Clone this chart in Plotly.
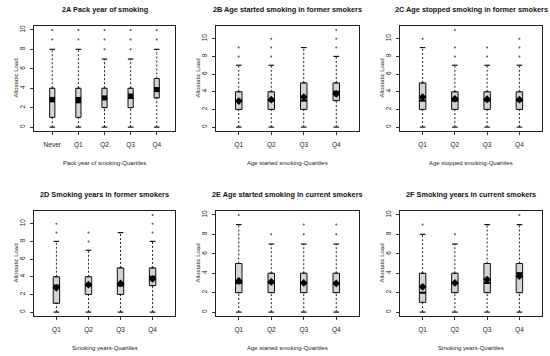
import plotly.graph_objects as go

# ---------------- data ----------------
titles = ["2A Pack year of smoking",
          "2B Age started smoking in former smokers",
          "2C Age stopped smoking in former smokers",
          "2D Smoking years in former smokers",
          "2E Age started smoking in current smokers",
          "2F Smoking years in current smokers"]
xtitles = ["Pack year of smoking-Quartiles",
           "Age started smoking-Quartiles",
           "Age stopped smoking-Quartiles",
           "Smoking years-Quartiles",
           "Age started smoking-Quartiles",
           "Smoking years-Quartiles"]
ytitle = "Allostatic Load"

cats_2A = ["Never", "Q1", "Q2", "Q3", "Q4"]
cats_q = ["Q1", "Q2", "Q3", "Q4"]

q1_2A = [1, 1, 2, 2, 3]; med_2A = [3, 3, 3, 3, 4]; q3_2A = [4, 4, 4, 4, 5]
lo_2A = [0, 0, 0, 0, 0]; hi_2A = [8, 8, 7, 7, 8]
mean_2A = [2.8, 2.7, 3.0, 3.2, 3.85]
out_2A = [[9, 10], [9, 10], [8, 9, 10], [8, 9, 10], [9, 10]]

q1_2B = [2, 2, 2, 3]; med_2B = [3, 3, 3, 4]; q3_2B = [4, 4, 5, 5]
lo_2B = [0, 0, 0, 0]; hi_2B = [7, 7, 9, 8]
mean_2B = [2.95, 3.1, 3.4, 3.75]
out_2B = [[8, 9], [8, 9, 10], [], [9, 10, 11]]

q1_2C = [2, 2, 2, 2]; med_2C = [3, 3, 3, 3]; q3_2C = [5, 4, 4, 4]
lo_2C = [0, 0, 0, 0]; hi_2C = [9, 7, 7, 7]
mean_2C = [3.4, 3.2, 3.15, 3.1]
out_2C = [[10], [8, 9, 11], [8, 9], [8, 9, 10]]

q1_2D = [1, 2, 2, 3]; med_2D = [3, 3, 3, 4]; q3_2D = [4, 4, 5, 5]
lo_2D = [0, 0, 0, 0]; hi_2D = [8, 7, 9, 8]
mean_2D = [2.75, 3.1, 3.25, 3.75]
out_2D = [[9, 10], [8, 9], [], [9, 10, 11]]

q1_2E = [2, 2, 2, 2]; med_2E = [3, 3, 3, 3]; q3_2E = [5, 4, 4, 4]
lo_2E = [0, 0, 0, 0]; hi_2E = [9, 7, 7, 7]
mean_2E = [3.2, 3.1, 3.0, 2.95]
out_2E = [[10], [8], [8, 9], [8, 9]]

q1_2F = [1, 2, 2, 2]; med_2F = [2, 3, 3, 4]; q3_2F = [4, 4, 5, 5]
lo_2F = [0, 0, 0, 0]; hi_2F = [8, 7, 9, 9]
mean_2F = [2.6, 3.0, 3.35, 3.7]
out_2F = [[9], [8], [], [10]]

ytickvals = [0, 2, 4, 6, 8, 10]

panels = [
    (cats_2A, q1_2A, med_2A, q3_2A, lo_2A, hi_2A, mean_2A, out_2A, "square"),
    (cats_q, q1_2B, med_2B, q3_2B, lo_2B, hi_2B, mean_2B, out_2B, "diamond"),
    (cats_q, q1_2C, med_2C, q3_2C, lo_2C, hi_2C, mean_2C, out_2C, "diamond"),
    (cats_q, q1_2D, med_2D, q3_2D, lo_2D, hi_2D, mean_2D, out_2D, "diamond"),
    (cats_q, q1_2E, med_2E, q3_2E, lo_2E, hi_2E, mean_2E, out_2E, "diamond"),
    (cats_q, q1_2F, med_2F, q3_2F, lo_2F, hi_2F, mean_2F, out_2F, "diamond"),
]

# ---------------- layout ----------------
W, H = 550, 356
FONT = "Liberation Sans, Arial, sans-serif"
col_px = [(34, 175), (216, 359), (400, 542)]
row_px = [(26, 131), (211, 316)]
title_y = [10, 195]
xtitle_y = [163, 348]
BOXW = 0.2

fig = go.Figure()
layout = dict(width=W, height=H, margin=dict(l=0, r=0, t=0, b=0),
              paper_bgcolor="white", plot_bgcolor="white",
              showlegend=False, font=dict(family=FONT, size=6, color="#222"))
annotations = []

for k, (cats, q1, med, q3, lo, hi, mean, outs, msym) in enumerate(panels):
    r, c = divmod(k, 3)
    xa = "x" if k == 0 else f"x{k+1}"
    ya = "y" if k == 0 else f"y{k+1}"
    xkey = "xaxis" if k == 0 else f"xaxis{k+1}"
    ykey = "yaxis" if k == 0 else f"yaxis{k+1}"
    n = len(cats)
    xs = list(range(1, n + 1))

    for i in range(n):
        fig.add_trace(go.Box(x=[xs[i]], q1=[q1[i]], median=[med[i]], q3=[q3[i]],
                             lowerfence=[q1[i]], upperfence=[q3[i]],
                             width=BOXW, fillcolor="#d4d4d4",
                             line=dict(color="#111", width=1),
                             boxpoints=False, hoverinfo="skip",
                             xaxis=xa, yaxis=ya))
    # medians
    mx, my = [], []
    for i in range(n):
        mx += [xs[i] - BOXW / 2, xs[i] + BOXW / 2, None]
        my += [med[i], med[i], None]
    fig.add_trace(go.Scatter(x=mx, y=my, mode="lines",
                             line=dict(color="black", width=2),
                             hoverinfo="skip", xaxis=xa, yaxis=ya))
    # whiskers
    wx, wy = [], []
    for i in range(n):
        wx += [xs[i], xs[i], None, xs[i], xs[i], None]
        wy += [lo[i], q1[i], None, q3[i], hi[i], None]
    fig.add_trace(go.Scatter(x=wx, y=wy, mode="lines",
                             line=dict(color="#222", width=1, dash="2px,2px"),
                             hoverinfo="skip", xaxis=xa, yaxis=ya))
    # caps
    fig.add_trace(go.Scatter(x=xs + xs, y=lo + hi, mode="markers",
                             marker=dict(symbol="line-ew", size=4,
                                         line=dict(color="#111", width=1.2)),
                             hoverinfo="skip", xaxis=xa, yaxis=ya))
    # outliers
    ox, oy = [], []
    for i in range(n):
        for v in outs[i]:
            ox.append(xs[i]); oy.append(v)
    fig.add_trace(go.Scatter(x=ox, y=oy, mode="markers",
                             marker=dict(symbol="circle", size=2, color="#555"),
                             hoverinfo="skip", xaxis=xa, yaxis=ya))
    # means
    fig.add_trace(go.Scatter(x=xs, y=mean, mode="markers",
                             marker=dict(symbol=msym, size=5 if msym == "square" else 6,
                                         color="black"),
                             hoverinfo="skip", xaxis=xa, yaxis=ya))

    ymax = max(max(hi), max([v for o in outs for v in o] or [0]))
    x0, x1 = col_px[c]
    yt, yb = row_px[r]
    layout[xkey] = dict(domain=[x0 / W, x1 / W], anchor=ya,
                        range=[0.3, n + 0.7], tickmode="array",
                        tickvals=xs, ticktext=cats, ticks="outside", ticklen=3,
                        ticklabelstandoff=4,
                        tickcolor="#333", showline=True, mirror=True,
                        linecolor="#222", linewidth=1, showgrid=False,
                        zeroline=False, tickfont=dict(size=6.5, family=FONT, color="#222"))
    layout[ykey] = dict(domain=[(H - yb) / H, (H - yt) / H], anchor=xa,
                        range=[-0.04 * ymax, 1.04 * ymax], tickmode="array",
                        tickvals=ytickvals, ticks="outside", ticklen=3,
                        ticklabelstandoff=2,
                        tickcolor="#333", tickangle=-90, showline=True, mirror=True,
                        linecolor="#222", linewidth=1, showgrid=False,
                        zeroline=False, tickfont=dict(size=6.5, family=FONT, color="#222"))
    cx = (x0 + x1) / 2 / W
    annotations.append(dict(text="<b>" + titles[k] + "</b>", x=cx, y=(H - title_y[r]) / H,
                            xref="paper", yref="paper", showarrow=False,
                            xanchor="center", yanchor="middle",
                            font=dict(size=7.3, family=FONT, color="#111")))
    annotations.append(dict(text=xtitles[k], x=cx, y=(H - xtitle_y[r]) / H,
                            xref="paper", yref="paper", showarrow=False,
                            xanchor="center", yanchor="middle",
                            font=dict(size=6, family=FONT, color="#222")))
    annotations.append(dict(text=ytitle, x=(x0 - 19) / W, y=(H - (yt + yb) / 2) / H,
                            xref="paper", yref="paper", showarrow=False, textangle=-90,
                            xanchor="center", yanchor="middle",
                            font=dict(size=6, family=FONT, color="#222")))

layout["annotations"] = annotations
fig.update_layout(**layout)
fig.write_html("out.html", config={"displayModeBar": False},
               post_script="document.body.style.margin='0';document.body.style.padding='0';"
                           "document.documentElement.style.overflow='hidden';")
